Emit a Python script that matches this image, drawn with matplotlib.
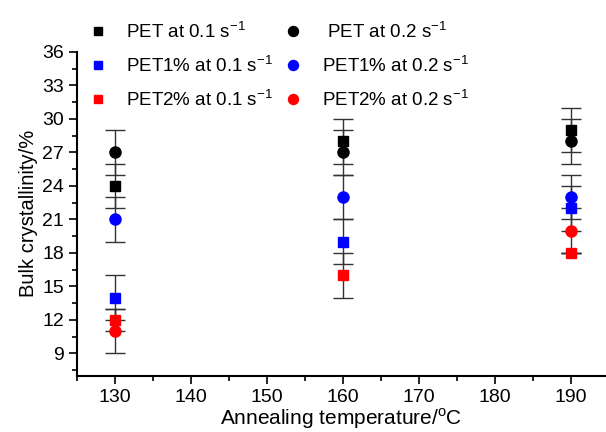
import numpy as np
import matplotlib
matplotlib.use("Agg")
import matplotlib.pyplot as plt
from matplotlib.ticker import MultipleLocator

plt.rcParams['font.family'] = ['Liberation Sans', 'DejaVu Sans']

temps = [130, 160, 190]

# crystallinity (%) and error for each series
pet_01 = [24, 28, 29]
pet_01_err = [2, 2, 2]
pet_02 = [27, 27, 28]
pet_02_err = [2, 2, 2]
pet1_01 = [14, 19, 22]
pet1_01_err = [2, 2, 2]
pet1_02 = [21, 23, 23]
pet1_02_err = [2, 2, 2]
pet2_01 = [12, 16, 18]
pet2_01_err = [1, 2, 0]
pet2_02 = [11, np.nan, 20]
pet2_02_err = [2, 0, 2]

labels = ["PET at 0.1 s$^{\\mathregular{-1}}$", " PET at 0.2 s$^{\\mathregular{-1}}$",
          "PET1% at 0.1 s$^{\\mathregular{-1}}$", "PET1% at 0.2 s$^{\\mathregular{-1}}$",
          "PET2% at 0.1 s$^{\\mathregular{-1}}$", "PET2% at 0.2 s$^{\\mathregular{-1}}$"]

series = [(pet_01, pet_01_err, 'black', 's'), (pet_02, pet_02_err, 'black', 'o'),
          (pet1_01, pet1_01_err, 'blue', 's'), (pet1_02, pet1_02_err, 'blue', 'o'),
          (pet2_01, pet2_01_err, 'red', 's'), (pet2_02, pet2_02_err, 'red', 'o')]

fig = plt.figure(figsize=(6.06, 4.32), dpi=100)
ax = fig.add_axes([0.127, 0.13, 0.871, 0.75])

handles = []
for (vals, errs, col, mk), lab in zip(series, labels):
    ax.errorbar(temps, vals, yerr=errs, fmt='none', ecolor='#333333',
                elinewidth=1, capsize=7, capthick=1, zorder=2)
    h, = ax.plot(temps, vals, linestyle='none', marker=mk, color=col,
                 markersize=8 if mk == 'o' else 7, label=lab, zorder=3)
    handles.append(h)

ax.set_xlim(125, 194.5)
ax.set_ylim(7, 36)
ax.set_xticks([130, 140, 150, 160, 170, 180, 190])
ax.set_yticks([9, 12, 15, 18, 21, 24, 27, 30, 33, 36])
ax.xaxis.set_minor_locator(MultipleLocator(5))
ax.yaxis.set_minor_locator(MultipleLocator(1.5))
ax.tick_params(which='major', direction='out', length=6, width=1.2, labelsize=14)
ax.tick_params(which='minor', direction='out', length=3.5, width=1.2)
ax.spines['top'].set_visible(False)
ax.spines['right'].set_visible(False)
ax.spines['left'].set_linewidth(1.5)
ax.spines['bottom'].set_linewidth(1.5)

ax.set_xlabel("Annealing temperature/$^{\\mathregular{o}}$C", fontsize=15, labelpad=0)
ax.set_ylabel("Bulk crystallinity/%", fontsize=14.5, labelpad=3)

order = [0, 2, 4, 1, 3, 5]
fig.legend([handles[i] for i in order], [labels[i] for i in order], ncol=2,
           loc='upper left', bbox_to_anchor=(0.118, 0.99), frameon=False,
           fontsize=13.5, handlelength=1.0, handletextpad=1.0, columnspacing=0.6,
           labelspacing=0.7, markerscale=0.9)

fig.savefig("out.png", dpi=100)
